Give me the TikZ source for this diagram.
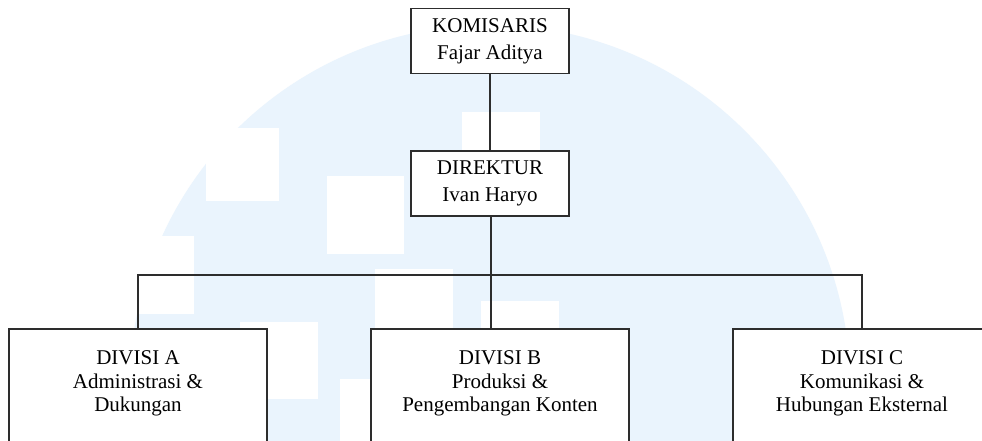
\documentclass[tikz,border=0pt]{standalone}
\usepackage{fontspec}
\setmainfont{Liberation Serif}
\definecolor{wmblue}{RGB}{234,244,253}
\definecolor{lineclr}{RGB}{45,45,45}
\tikzset{
  topbox/.style={draw=lineclr, line width=1.5pt, fill=white, minimum width=158pt,
    minimum height=65pt, inner sep=0pt, align=center,
    font=\fontsize{21}{27}\selectfont},
  divbox/.style={draw=lineclr, line width=1.5pt, fill=white, minimum width=258pt,
    anchor=north, inner xsep=0pt, inner ysep=21pt, align=center,
    text height=62pt, text depth=80pt,
    font=\fontsize{21}{23.5}\selectfont},
  conn/.style={draw=lineclr, line width=1.6pt},
  wmsq/.style={fill=white}
}
\begin{document}
\begin{tikzpicture}[x=1pt,y=-1pt]
\path[use as bounding box, clip] (0,0) rectangle (982,441);
\fill[white] (0,0) rectangle (982,441);
% watermark
\fill[wmblue] (490,385) circle[radius=360pt];
\fill[wmsq] (206,128) rectangle (279,201);
\fill[wmsq] (327,176) rectangle (404,254);
\fill[wmsq] (100,236) rectangle (194,314);
\fill[wmsq] (375,269) rectangle (453,347);
\fill[wmsq] (481,301) rectangle (559,379);
\fill[wmsq] (240,322) rectangle (318,399);
\fill[wmsq] (340,379) rectangle (417,457);
\fill[wmsq] (462,112) rectangle (540,189);
% nodes
\node[topbox] (kom) at (490,41) {KOMISARIS\\Fajar Aditya};
\node[topbox] (dir) at (490,183.5) {DIREKTUR\\Ivan Haryo};
\node[divbox] (diva) at (138,328) {DIVISI A\\Administrasi \&\\Dukungan};
\node[divbox] (divb) at (500,328) {DIVISI B\\Produksi \&\\Pengembangan Konten};
\node[divbox] (divc) at (862,328) {DIVISI C\\Komunikasi \&\\Hubungan Eksternal};
\coordinate (bus) at (491,275);
% connectors
\draw[conn] (kom.south) -- (dir.north);
\draw[conn] (dir.south -| bus) -- (bus |- divb.north);
\draw[conn] (diva.north) |- (bus) -| (divc.north);
\end{tikzpicture}
\end{document}
